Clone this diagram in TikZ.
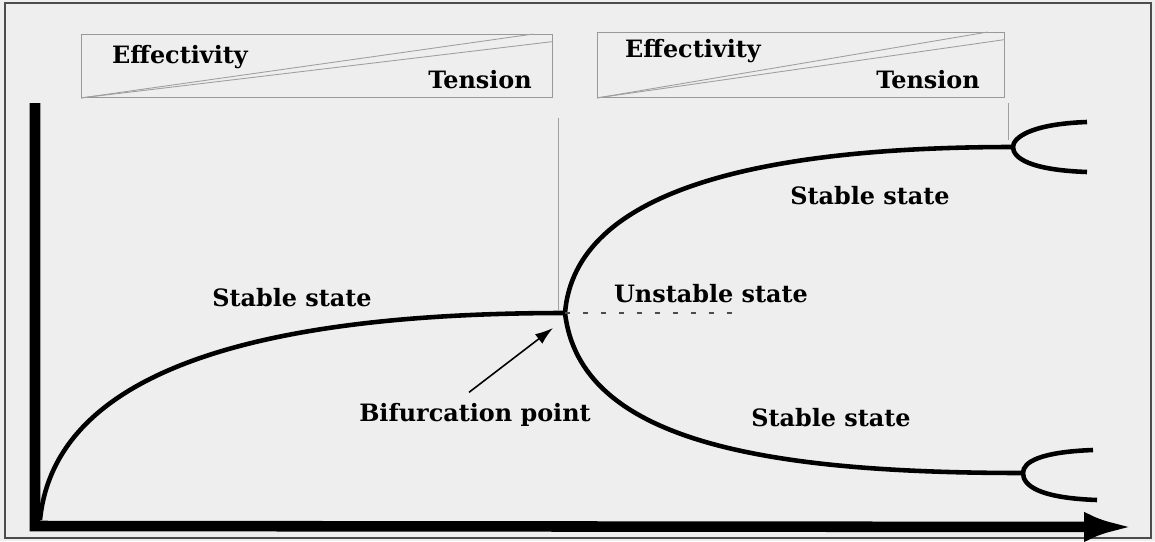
\documentclass[tikz,border=0pt]{standalone}
\usepackage{fontspec}
\setmainfont{DejaVu Serif}
\usetikzlibrary{arrows.meta,positioning}

\begin{document}
\begin{tikzpicture}[
    x=0.02cm, y=-0.02cm,
    >=Latex,
    lbl/.style={font=\bfseries\fontsize{13.6}{15}\selectfont, inner sep=1pt},
    legend/.style={draw=gray!80, line width=0.5pt},
    guide/.style={gray!75, line width=0.5pt},
    curve/.style={line width=2.6pt},
    axis/.style={line width=6pt, line join=miter},
    pointer/.style={->, line width=0.9pt, >={Latex[length=0.36cm,width=0.24cm]}}
]
    \useasboundingbox (0,0) rectangle (1155,541);
    \fill[gray!13] (0,0) rectangle (1155,541);
    \draw[gray!60!black, line width=1.2pt] (5,3) rectangle (1151,538);

    % legend boxes
    \node[legend, minimum width=9.42cm, minimum height=1.26cm] (boxA) at (317,66) {};
    \node[legend, minimum width=8.14cm, minimum height=1.3cm] (boxB) at (801,65) {};
    \draw[guide] (boxA.south west) -- ([xshift=-0.4cm]boxA.north east);
    \draw[guide] (boxA.south west) -- ([yshift=-0.15cm]boxA.north east);
    \draw[guide] (boxB.south west) -- ([xshift=-0.35cm]boxB.north east);
    \draw[guide] (boxB.south west) -- ([yshift=-0.15cm]boxB.north east);
    \node[lbl] (effA) at (180,57) {Effectivity};
    \node[lbl] (tenA) at (480,80) {Tension};
    \node[lbl] (effB) at (693,51) {Effectivity};
    \node[lbl] (tenB) at (928,80) {Tension};

    % axes
    \coordinate (O) at (35,526);
    \coordinate (ytop) at (35,103);
    \coordinate (xend) at (1134,527);
    \draw[axis, -{Latex[length=1cm,width=0.6cm]}] (ytop) -- (O) -- (xend);

    % bifurcation curve
    \coordinate (start) at (40,520);
    \coordinate (B) at (565,313);
    \coordinate (up) at (1013,147);
    \coordinate (low) at (1023,473);
    \coordinate (dashend) at (740,313);
    \draw[curve] (start) .. controls (55,370) and (260,313) .. (B);
    \draw[curve] (B) .. controls (575,190) and (760,147) .. (up);
    \draw[curve] (B) .. controls (580,440) and (760,473) .. (low);
    \draw[curve] (1087,122) .. controls (1030,124) and (1013,138) .. (up)
        .. controls (1013,158) and (1030,170) .. (1087,172);
    \draw[curve] (1093,450) .. controls (1040,452) and (1023,462) .. (low)
        .. controls (1023,486) and (1040,498) .. (1097,500);
    \draw[gray!60!black, line width=1pt, dash pattern=on 0.1cm off 0.26cm] (B) -- (dashend);

    % guide lines
    \coordinate (gA) at (558,118);
    \coordinate (gA2) at (558,311);
    \coordinate (gB) at (1008,103);
    \coordinate (gB2) at (1008,140);
    \draw[guide] (gA) -- (gA2);
    \draw[guide] (gB) -- (gB2);

    % labels
    \node[lbl] (stL) at (292,298) {Stable state};
    \node[lbl] (unst) at (711,294) {Unstable state};
    \node[lbl] (stU) at (870,196) {Stable state};
    \node[lbl] (stD) at (831,418) {Stable state};
    \node[lbl] (bif) at (475,415) {Bifurcation point};
    \coordinate (tip) at (553,328);
    \draw[pointer] ([xshift=-0.12cm,yshift=0.18cm]bif.north) -- (tip);
\end{tikzpicture}
\end{document}
